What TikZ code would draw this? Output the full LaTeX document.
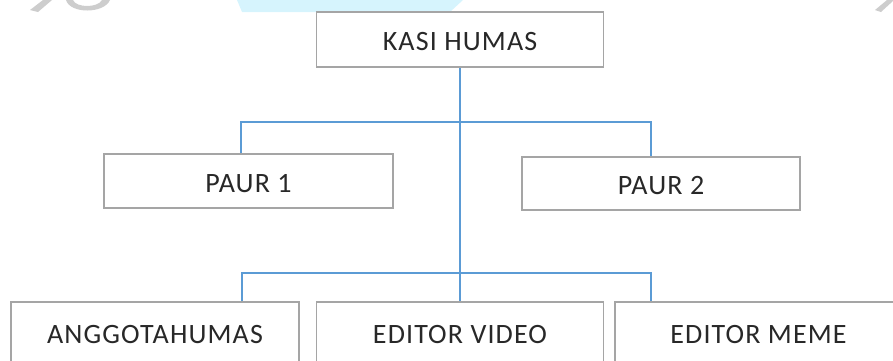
\documentclass[tikz,border=0pt]{standalone}
\usepackage{fontspec}
\setmainfont{Carlito}[LetterSpace=4]
\definecolor{boxgray}{RGB}{165,165,165}
\definecolor{lineblue}{RGB}{91,155,213}
\definecolor{wmcyan}{RGB}{214,244,253}
\definecolor{wmgray}{RGB}{205,205,205}
\definecolor{txtgray}{RGB}{40,40,40}
\tikzset{
  orgbox/.style={draw=boxgray, line width=1.5pt, fill=white, inner sep=0pt,
    text=txtgray, font=\fontsize{28}{32}\selectfont, text height=22pt, text depth=0pt},
  conn/.style={draw=lineblue, line width=1.5pt}
}
\begin{document}
\begin{tikzpicture}[x=1pt,y=-1pt]
\useasboundingbox (0,0) rectangle (893,360);
\clip (0,0) rectangle (893,360);
% watermark fragments
\fill[wmcyan] (237,0) -- (463,0) -- (450,12) -- (242,12) -- cycle;
\fill[wmgray] (30,10) -- (38,12) -- (52,0) -- (43,0) -- cycle;
\fill[wmgray] (66,0) .. controls (70,14) and (104,14) .. (110,0) -- (102,0) .. controls (98,8) and (76,8) .. (73,0) -- cycle;
\fill[wmgray] (875,10) -- (881,12) -- (893,1) -- (893,0) -- (887,0) -- cycle;
% boxes
\node[orgbox, minimum width=287pt, minimum height=55pt] (kasi) at (460,39.5) {KASI HUMAS};
\node[orgbox, minimum width=289pt, minimum height=54pt] (paur1) at (248.5,181) {PAUR 1};
\node[orgbox, minimum width=278pt, minimum height=53pt] (paur2) at (661,183.5) {PAUR 2};
\node[orgbox, minimum width=288pt, minimum height=60pt] (anggota) at (155,332) {ANGGOTAHUMAS};
\node[orgbox, minimum width=287pt, minimum height=60pt] (video) at (460,332) {EDITOR VIDEO};
\node[orgbox, minimum width=287pt, minimum height=60pt] (meme) at (758.5,332) {EDITOR MEME};
% connectors
\coordinate (ul) at (241,122);
\coordinate (ur) at (651,122);
\coordinate (ll) at (242,273);
\coordinate (lr) at (651,273);
\draw[conn] (kasi.south) -- (video.north);
\draw[conn] (paur1.north -| ul) -- (ul) -- (ur) -- (paur2.north -| ur);
\draw[conn] (anggota.north -| ll) -- (ll) -- (lr) -- (meme.north -| lr);
\end{tikzpicture}
\end{document}
